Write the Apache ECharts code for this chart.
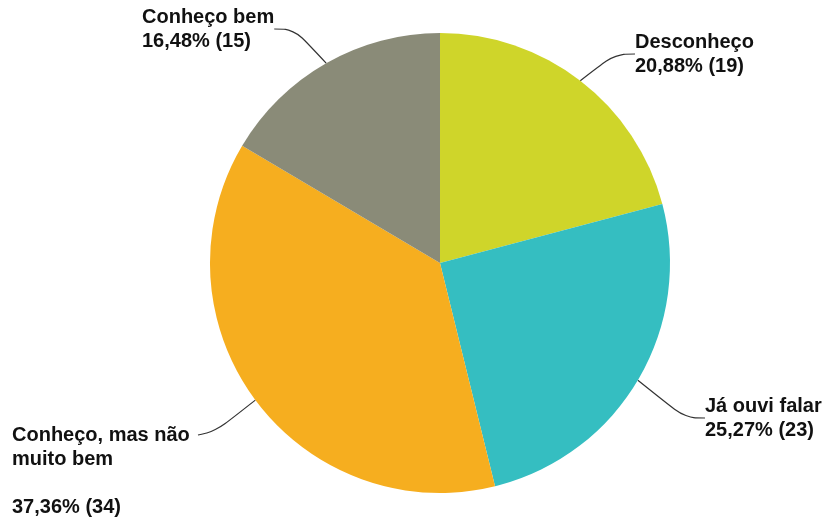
<!DOCTYPE html>
<html>
<head>
<meta charset="utf-8">
<script src="https://cdn.jsdelivr.net/npm/echarts@6/dist/echarts.min.js"></script>
<style>
  html, body { margin: 0; padding: 0; background: #fff; }
  #chart-wrapper { width: 828px; height: 519px; }
</style>
</head>
<body>
<div id="chart-wrapper"></div>
<script>
const categories = ['Desconheço', 'Já ouvi falar', 'Conheço, mas não\nmuito bem\n', 'Conheço bem']
const counts = [19, 23, 34, 15]
const percents = ['20,88%', '25,27%', '37,36%', '16,48%']
const colors = ['#cfd52a', '#35bec1', '#f6ae1f', '#8a8b78']

// where each label block sits (top-left)
const labelSpots = [
  { x: 635, y: 30 },
  { x: 705, y: 394 },
  { x: 12, y: 423 },
  { x: 142, y: 5 }
]

const chartDom = document.getElementById('chart-wrapper')
const chart = echarts.init(chartDom)

const seriesData = categories.map((name, i) => ({
  name,
  value: counts[i],
  itemStyle: { color: colors[i] }
}))

const layoutLabel = p => {
  const spot = labelSpots[p.dataIndex]
  const out = { x: spot.x, y: spot.y, align: 'left', verticalAlign: 'top' }
  // the big left label hooks onto its first line, not the block's edge
  if (p.dataIndex === 2 && p.labelLinePoints) {
    const start = p.labelLinePoints[0]
    const end = [spot.x + 186, spot.y + 12]
    out.labelLinePoints = [start, [end[0] + 18, end[1] - 4], end]
  }
  return out
}

const option = {
  animation: false,
  backgroundColor: '#fff',
  series: [
    {
      type: 'pie',
      center: [440, 263],
      radius: 230,
      startAngle: 90,
      clockwise: true,
      data: seriesData,
      label: {
        show: true,
        position: 'outside',
        fontFamily: 'Liberation Sans, Arial, sans-serif',
        fontWeight: 'bold',
        fontSize: 20,
        lineHeight: 24,
        color: '#111',
        formatter: p => `${p.name}\n${percents[p.dataIndex]} (${p.value})`
      },
      labelLine: {
        show: true,
        length: 20,
        length2: 20,
        smooth: 0.4,
        lineStyle: { color: '#333', width: 1.2 }
      },
      labelLayout: layoutLabel
    }
  ]
}

chart.setOption(option)
</script>
</body>
</html>
